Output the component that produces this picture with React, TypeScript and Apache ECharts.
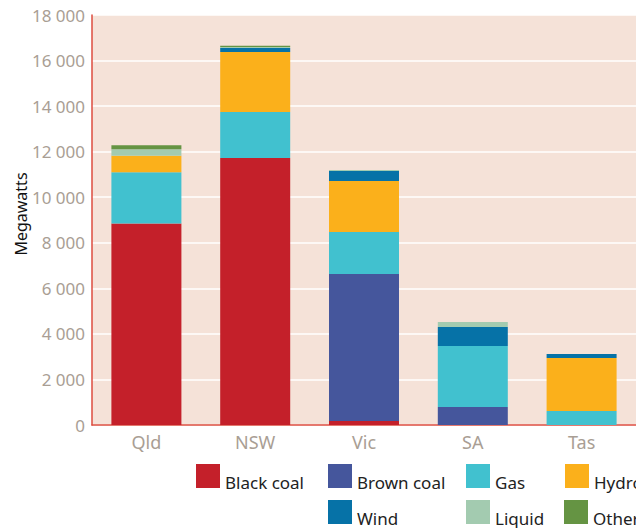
import React, { useEffect, useRef } from "react";
import * as echarts from "echarts";

const categories = ["Qld", "NSW", "Vic", "SA", "Tas"];
const blackCoal = [8850, 11720, 175, 0, 0];
const brownCoal = [0, 0, 6450, 790, 0];
const gas = [2250, 2020, 1845, 2680, 615];
const hydro = [720, 2635, 2240, 0, 2325];
const wind = [0, 175, 440, 835, 175];
const liquid = [290, 40, 40, 220, 0];
const other = [175, 60, 0, 0, 0];
const yTicks = [0, 2000, 4000, 6000, 8000, 10000, 12000, 14000, 16000, 18000];
const yAxisTitle = "Megawatts";

const seriesDefs = [
  { name: "Black coal", data: blackCoal, color: "#c4202a" },
  { name: "Brown coal", data: brownCoal, color: "#45569c" },
  { name: "Gas", data: gas, color: "#41c1cf" },
  { name: "Hydro", data: hydro, color: "#fbb01b" },
  { name: "Wind", data: wind, color: "#0672a7" },
  { name: "Liquid", data: liquid, color: "#a3cbb0" },
  { name: "Other", data: other, color: "#659443" },
];

const legendPos: Record<string, [number, number]> = {
  "Black coal": [196, 464],
  "Brown coal": [328, 464],
  Gas: [466, 464],
  Hydro: [565, 464],
  Wind: [328, 500],
  Liquid: [466, 500],
  Other: [564, 500],
};

const FONT = "Noto Sans";

export default function App() {
  const ref = useRef<HTMLDivElement>(null);
  useEffect(() => {
    if (!ref.current) return;
    const chart = echarts.init(ref.current, null, { renderer: "svg" });
    chart.setOption({
      animation: false,
      backgroundColor: "#ffffff",
      grid: {
        left: 92,
        top: 15,
        right: -1,
        bottom: 103,
        show: true,
        backgroundColor: "#f5e2d8",
        borderWidth: 0,
      },
      graphic: [
        {
          type: "text",
          x: 21,
          y: 214,
          rotation: Math.PI / 2,
          style: {
            text: yAxisTitle,
            fontFamily: FONT,
            fontSize: 16,
            fill: "#111111",
            align: "center",
            verticalAlign: "middle",
          },
        },
      ],
      legend: seriesDefs.map((s) => ({
        data: [s.name],
        left: legendPos[s.name][0],
        top: legendPos[s.name][1],
        padding: 0,
        itemWidth: 24,
        itemHeight: 24,
        itemGap: 0,
        selectedMode: false,
        icon: "rect",
        formatter: "{t|{name}}",
        textStyle: {
          fontFamily: FONT,
          fontSize: 17,
          color: "#222222",
          rich: {
            t: {
              fontFamily: FONT,
              fontSize: 17,
              color: "#222222",
              padding: [12, 0, 0, 0],
            },
          },
        },
      })),
      xAxis: {
        type: "category",
        data: categories,
        axisLine: { show: true, lineStyle: { color: "#dc4d3f", width: 1.5 } },
        axisTick: { show: false },
        axisLabel: {
          color: "#a99e94",
          fontFamily: FONT,
          fontSize: 18,
          margin: 8,
        },
      },
      yAxis: {
        type: "value",
        min: 0,
        max: 18000,
        interval: 2000,
        axisLine: { show: true, lineStyle: { color: "#dc4d3f", width: 1.5 } },
        axisTick: { show: false },
        splitLine: { show: true, lineStyle: { color: "#ffffff", width: 1.5 } },
        axisLabel: {
          color: "#a99e94",
          fontFamily: FONT,
          fontSize: 17,
          margin: 7,
          formatter: (v: number) =>
            yTicks.includes(v) ? String(v).replace(/\B(?=(\d{3})+(?!\d))/g, " ") : "",
        },
      },
      series: seriesDefs.map((s) => ({
        name: s.name,
        type: "bar",
        stack: "total",
        barWidth: 70,
        data: s.data,
        itemStyle: { color: s.color },
        emphasis: { disabled: true },
      })),
    });
    return () => chart.dispose();
  }, []);
  return (
    <div
      ref={ref}
      style={{ position: "fixed", left: 0, top: 0, width: 636, height: 528 }}
    />
  );
}
